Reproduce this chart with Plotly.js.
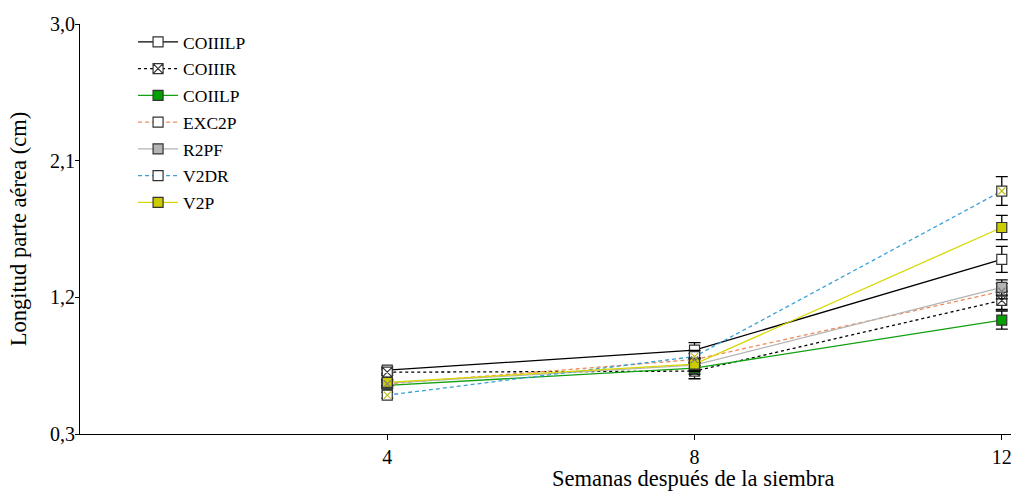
<!DOCTYPE html>
<html><head><meta charset="utf-8">
<script src="https://cdn.plot.ly/plotly-3.0.1.min.js"></script>
<style>html,body{margin:0;padding:0;background:#fff}#chart{width:1013px;height:491px}</style>
</head><body><div id="chart"></div>
<script>
const weeks = [4, 8, 12];
const names = ["COIIILP", "COIIIR", "COIILP", "EXC2P", "R2PF", "V2DR", "V2P"];
const COIIILP = [0.72, 0.852, 1.45];
const COIIIR  = [0.707, 0.714, 1.18];
const COIILP  = [0.62, 0.734, 1.05];
const EXC2P   = [0.63, 0.79, 1.24];
const R2PF    = [0.635, 0.753, 1.265];
const V2DR    = [0.556, 0.81, 1.90];
const V2P     = [0.64, 0.76, 1.66];
const errCOIIILP = [0.02, 0.05, 0.085];
const errCOIIIR  = [0.02, 0.05, 0.06];
const errCOIILP  = [0.02, 0.04, 0.06];
const errEXC2P   = [0.02, 0.04, 0.05];
const errR2PF    = [0.02, 0.04, 0.05];
const errV2DR    = [0.02, 0.04, 0.095];
const errV2P     = [0.02, 0.04, 0.08];

const series = [
  {y: COIIILP, e: errCOIIILP, color: "#000000", dash: "solid", fill: "#ffffff", sym: "square", x: null},
  {y: COIIIR,  e: errCOIIIR,  color: "#000000", dash: "3px,3px", fill: "#ffffff", sym: "square-x", x: null},
  {y: COIILP,  e: errCOIILP,  color: "#10a010", dash: "solid", fill: "#00a000", sym: "square", x: null},
  {y: EXC2P,   e: errEXC2P,   color: "#f08a5a", dash: "4px,3px", fill: "#ffffff", sym: "square", x: "#f07040"},
  {y: R2PF,    e: errR2PF,    color: "#b4b4b4", dash: "solid", fill: "#b4b4b4", sym: "square", x: null},
  {y: V2DR,    e: errV2DR,    color: "#3aa0d8", dash: "4px,3px", fill: "#ffffff", sym: "square", x: "#2a90d0"},
  {y: V2P,     e: errV2P,     color: "#d8d800", dash: "solid", fill: "#cccc00", sym: "square", x: null}
];

const traces = [];
series.forEach((s, i) => {
  traces.push({
    x: weeks, y: s.y, name: names[i], type: "scatter", mode: "lines+markers",
    legendgroup: "g" + i,
    line: {color: s.color, width: 1.3, dash: s.dash},
    marker: {symbol: s.sym, size: 10, color: s.fill, line: {color: "#333333", width: 1.2}},
    error_y: {type: "data", array: s.e, visible: true, color: "#000000", thickness: 1.3, width: 6}
  });
});
series.forEach((s, i) => {
  if (s.x) {
    traces.push({
      x: weeks, y: s.y, type: "scatter", mode: "markers", showlegend: false, hoverinfo: "skip",
      legendgroup: "g" + i,
      marker: {symbol: "x-thin-open", size: 7, line: {color: s.x, width: 1.2}}
    });
  }
});

const layout = {
  width: 1013, height: 491,
  margin: {l: 80, r: 2, t: 24, b: 57},
  paper_bgcolor: "#fff", plot_bgcolor: "#fff",
  separators: ",.",
  font: {family: "Liberation Serif, Times New Roman, serif", color: "#000", size: 18},
  showlegend: true,
  legend: {x: 0.057, y: 1.0, xanchor: "left", yanchor: "top", bgcolor: "rgba(0,0,0,0)",
           font: {size: 17.5, family: "Liberation Serif, serif"}, traceorder: "grouped",
           tracegroupgap: 1, itemwidth: 40},
  xaxis: {
    range: [0, 12.12], tickvals: weeks, ticktext: ["4", "8", "12"],
    showgrid: false, zeroline: false, showline: true, linecolor: "#000", linewidth: 1,
    ticks: "outside", ticklen: 5, tickcolor: "#000",
    tickfont: {size: 20}
  },
  yaxis: {
    range: [0.3, 3.0], tickvals: [0.3, 1.2, 2.1, 3.0], tickformat: ".1f",
    showgrid: false, zeroline: false, showline: true, linecolor: "#000", linewidth: 1,
    ticks: "outside", ticklen: 4, tickcolor: "#000", ticklabelstandoff: -4,
    tickfont: {size: 20},
    title: {text: "Longitud parte aérea (cm)", font: {size: 22.5}, standoff: 17}
  },
  annotations: [{
    text: "Semanas después de la siembra", xref: "paper", yref: "paper",
    x: 0.658, y: 0, yshift: -44, xanchor: "center", yanchor: "middle",
    showarrow: false, font: {size: 22.5}
  }]
};

Plotly.newPlot("chart", traces, layout, {displayModeBar: false, staticPlot: true});
</script>
</body></html>
